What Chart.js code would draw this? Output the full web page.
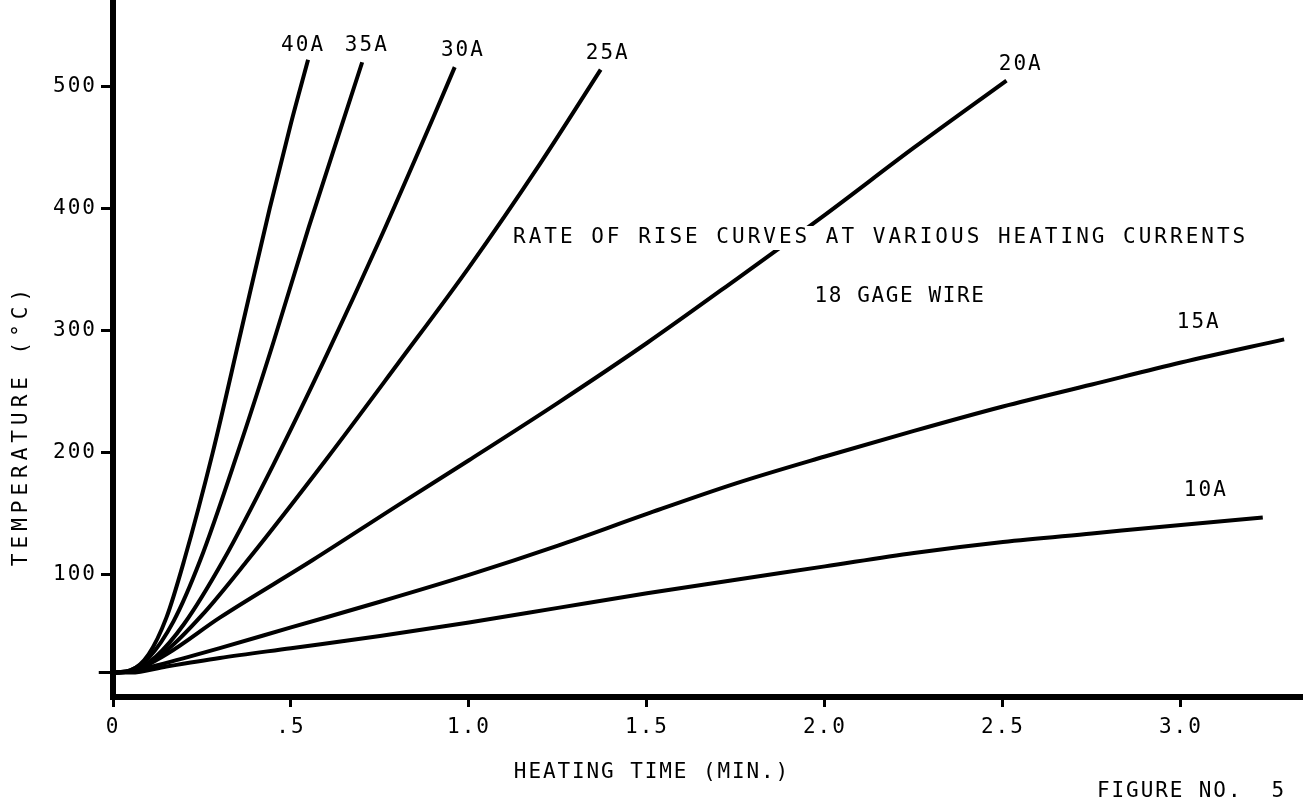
<!DOCTYPE html>
<html>
<head>
<meta charset="utf-8">
<script src="https://cdn.jsdelivr.net/npm/chart.js@4"></script>
<style>
  html, body { margin: 0; padding: 0; background: #fff; }
  #wrap { width: 1303px; height: 799px; }
</style>
</head>
<body>
<div id="wrap"><canvas id="riseChart" width="1303" height="799"></canvas></div>
<script>
    // Axis ticks
    const timeTicks = [0, 0.5, 1, 1.5, 2, 2.5, 3];
    const timeTickLabels = ['0', '.5', '1.0', '1.5', '2.0', '2.5', '3.0'];
    const tempTicks = [100, 200, 300, 400, 500];

    // Heating time (min.) / temperature (deg C), one pair per current
    const time40 = [0, 0.05, 0.1, 0.15, 0.2, 0.28, 0.36, 0.44, 0.5, 0.548];
    const temp40 = [20, 22, 35, 65, 112, 200, 300, 400, 470, 522];

    const time35 = [0, 0.05, 0.1, 0.17, 0.245, 0.35, 0.45, 0.55, 0.65, 0.70];
    const temp35 = [20, 22, 32, 62, 112, 200, 290, 385, 475, 520];

    const time30 = [0, 0.05, 0.12, 0.2, 0.31, 0.45, 0.6, 0.75, 0.9, 0.96];
    const temp30 = [20, 21, 33, 60, 112, 190, 280, 375, 475, 516];

    const time25 = [0, 0.05, 0.15, 0.25, 0.378, 0.6, 0.8, 1.0, 1.2, 1.37];
    const temp25 = [20, 21, 38, 67, 112, 195, 273, 352, 437, 514];

    const time20 = [0, 0.05, 0.15, 0.3, 0.56, 0.8, 1.0, 1.25, 1.5, 1.75, 2.0, 2.25, 2.51];
    const temp20 = [20, 21, 35, 65, 112, 157, 194, 241, 290, 342, 395, 450, 505];

    const time15 = [0, 0.05, 0.15, 0.3, 0.5, 0.75, 1.0, 1.25, 1.5, 1.75, 2.0, 2.25, 2.5, 2.75, 3.0, 3.29];
    const temp15 = [20, 21, 28, 40, 57, 78, 100, 124, 150, 175, 197, 218, 238, 256, 274, 293];

    const time10 = [0, 0.05, 0.15, 0.3, 0.5, 0.75, 1.0, 1.25, 1.5, 1.75, 2.0, 2.25, 2.5, 2.75, 3.0, 3.23];
    const temp10 = [20, 20, 25, 32, 40, 50, 61, 73, 85, 96, 107, 118, 127, 134, 141, 147];

    // room temperature start mark
    const ambientTime = [-0.04, 0.05];
    const ambientTemp = [20, 20];

    const currents = ['40A', '35A', '30A', '25A', '20A', '15A', '10A'];
    const labelTime = [0.534, 0.713, 0.983, 1.39, 2.55, 3.05, 3.07];
    const labelTemp = [534, 534, 530, 527, 518, 307, 169];

    function toPoints(xs, ys) {
        return xs.map((x, i) => ({ x: x, y: ys[i] }));
    }

    const curveSets = [
        [time40, temp40], [time35, temp35], [time30, temp30], [time25, temp25],
        [time20, temp20], [time15, temp15], [time10, temp10]
    ];

    const datasets = curveSets.map((c, i) => ({
        label: currents[i],
        data: toPoints(c[0], c[1]),
        borderColor: '#000',
        borderWidth: 4,
        pointRadius: 0,
        cubicInterpolationMode: 'monotone',
        fill: false
    }));
    datasets.push({
        label: 'ambient',
        data: toPoints(ambientTime, ambientTemp),
        borderColor: '#000',
        borderWidth: 3,
        pointRadius: 0,
        clip: false
    });

    const FONT = '21px "DejaVu Sans Mono"';

    // typewriter letter spacing for everything drawn on the canvas
    const spacingPlugin = {
        id: 'spacing',
        beforeDraw(chart) {
            chart.ctx.letterSpacing = '2px';
        }
    };

    function putText(ctx, text, x, y, align) {
        ctx.textAlign = align || 'center';
        ctx.fillText(text, x, y);
    }

    const notesPlugin = {
        id: 'notes',
        afterDatasetsDraw(chart) {
            const ctx = chart.ctx;
            const xs = chart.scales.x, ys = chart.scales.y;
            ctx.save();
            ctx.letterSpacing = '2px';
            ctx.font = FONT;
            ctx.fillStyle = '#000';
            ctx.textBaseline = 'middle';

            currents.forEach((c, i) => {
                putText(ctx, c, xs.getPixelForValue(labelTime[i]), ys.getPixelForValue(labelTemp[i]));
            });

            // title, with the paper showing through behind it
            const title = 'RATE OF RISE CURVES AT VARIOUS HEATING CURRENTS';
            ctx.letterSpacing = '3px';
            const w = ctx.measureText(title).width;
            ctx.fillStyle = '#fff';
            ctx.fillRect(513, 226, w, 24);
            ctx.fillStyle = '#000';
            putText(ctx, title, 513, 238, 'left');

            ctx.letterSpacing = '1.6px';
            putText(ctx, '18 GAGE WIRE', 900, 297);

            ctx.letterSpacing = '1.9px';
            putText(ctx, 'HEATING TIME (MIN.)', 652, 773);
            putText(ctx, 'FIGURE NO.  5', 1097, 792, 'left');

            ctx.save();
            ctx.translate(22, 425);
            ctx.rotate(-Math.PI / 2);
            ctx.letterSpacing = '5px';
            putText(ctx, 'TEMPERATURE (°C)', 0, 0);
            ctx.restore();

            ctx.restore();
        }
    };

    const ctx = document.getElementById('riseChart').getContext('2d');
    const riseChart = new Chart(ctx, {
        type: 'line',
        data: { datasets: datasets },
        plugins: [spacingPlugin, notesPlugin],
        options: {
            responsive: false,
            animation: false,
            devicePixelRatio: 1,
            layout: { padding: 0 },
            plugins: {
                legend: { display: false },
                tooltip: { enabled: false }
            },
            scales: {
                x: {
                    type: 'linear',
                    min: 0,
                    max: 3.343,
                    afterBuildTicks: axis => { axis.ticks = timeTicks.map(v => ({ value: v })); },
                    afterFit: axis => {
                        axis.height = 102;
                        axis.paddingLeft = 0;
                        axis.paddingRight = 0;
                    },
                    ticks: {
                        color: '#000',
                        font: { family: 'DejaVu Sans Mono', size: 21 },
                        padding: 8,
                        maxRotation: 0,
                        autoSkip: false,
                        callback: (value, index) => timeTickLabels[index]
                    },
                    grid: { drawOnChartArea: false, color: '#000', lineWidth: 3, tickLength: 10 },
                    border: { display: true, color: '#000', width: 6 }
                },
                y: {
                    type: 'linear',
                    min: 0,
                    max: 571,
                    afterBuildTicks: axis => { axis.ticks = tempTicks.map(v => ({ value: v })); },
                    afterFit: axis => {
                        axis.width = 113;
                        axis.paddingTop = 0;
                        axis.paddingBottom = 0;
                    },
                    ticks: {
                        color: '#000',
                        font: { family: 'DejaVu Sans Mono', size: 21 },
                        padding: 4
                    },
                    grid: { drawOnChartArea: false, color: '#000', lineWidth: 3, tickLength: 12 },
                    border: { display: true, color: '#000', width: 6 }
                }
            }
        }
    });
</script>
</body>
</html>
